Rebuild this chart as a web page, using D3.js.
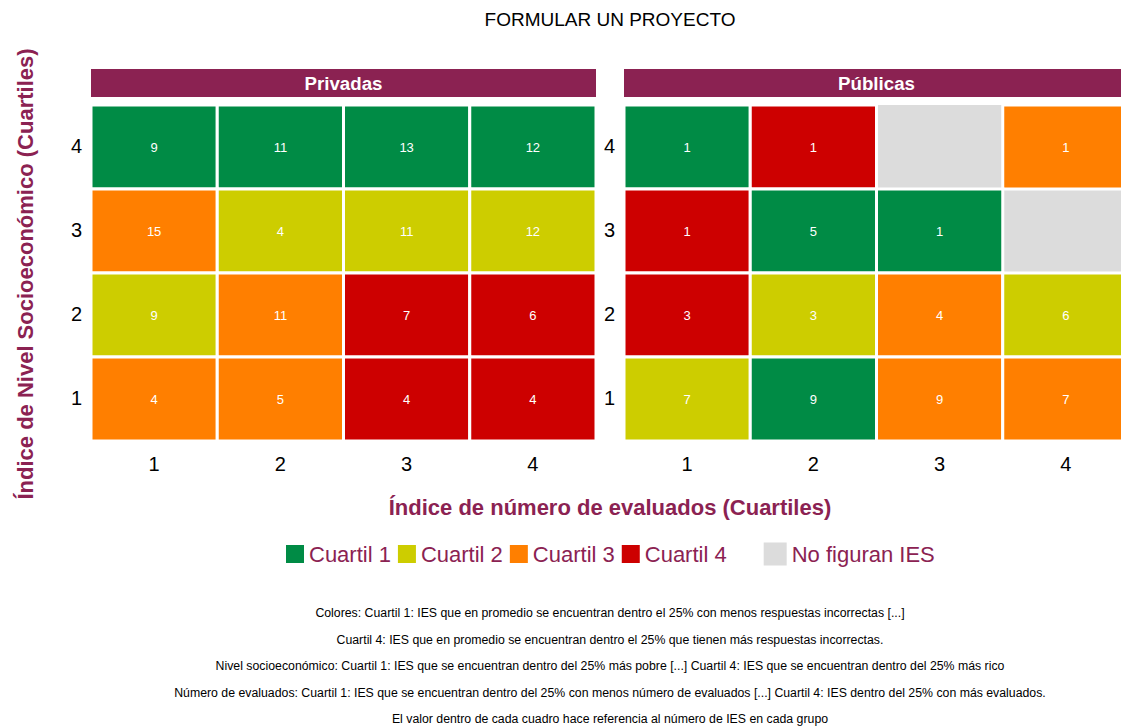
<!DOCTYPE html>
<html lang="es">
<head>
  <meta charset="UTF-8">
  <title>Formular un proyecto</title>
  <style>
    body { margin: 0; background: #fff; }
    text { font-family: "Liberation Sans", Arial, sans-serif; }
  </style>
</head>
<body>
  <svg id="chart" width="1121" height="728"></svg>
  <script src="https://d3js.org/d3.v7.min.js"></script>
  <script>
    // data
    var panels = ["Privadas", "Públicas"];
    var xQuart = [1, 2, 3, 4];      // número de evaluados
    var yQuart = [4, 3, 2, 1];      // nivel socioeconómico, top to bottom
    // counts per panel, rows are y = 4,3,2,1, cols are x = 1..4 (null = no IES)
    var privCounts = [[9, 11, 13, 12], [15, 4, 11, 12], [9, 11, 7, 6], [4, 5, 4, 4]];
    var privColor  = [[1, 1, 1, 1], [3, 2, 2, 2], [2, 3, 4, 4], [3, 3, 4, 4]];
    var pubCounts  = [[1, 1, null, 1], [1, 5, 1, null], [3, 3, 4, 6], [7, 9, 9, 7]];
    var pubColor   = [[1, 4, 0, 3], [4, 1, 1, 0], [4, 2, 3, 2], [2, 1, 3, 3]];
    var legendLabels = ["Cuartil 1", "Cuartil 2", "Cuartil 3", "Cuartil 4", "No figuran IES"];
    var notes = [
      "Colores: Cuartil 1:  IES que en promedio se encuentran dentro el 25% con menos respuestas incorrectas [...]",
      "Cuartil 4: IES que en promedio se encuentran dentro el 25% que tienen más respuestas incorrectas.",
      "Nivel socioeconómico: Cuartil 1: IES que se encuentran dentro del 25% más pobre [...] Cuartil 4: IES que se encuentran dentro del 25% más rico",
      "Número de evaluados: Cuartil 1: IES que se encuentran dentro del 25% con menos número de evaluados [...] Cuartil 4: IES dentro del 25% con más evaluados.",
      "El valor dentro de cada cuadro hace referencia al número de IES en cada grupo"
    ];

    var maroon = "#8B2252";
    // 0 = no IES, 1..4 = cuartil
    var fill = d3.scaleOrdinal()
      .domain([1, 2, 3, 4, 0])
      .range(["#008B45", "#CDCD00", "#FF7F00", "#CD0000", "#DCDCDC"]);

    var svg = d3.select("#chart");

    // flatten grids into tiles
    function tiles(counts, colors) {
      var out = [];
      yQuart.forEach(function(yq, r) {
        xQuart.forEach(function(xq, c) {
          out.push({x: xq, y: yq, n: counts[r][c], q: colors[r][c]});
        });
      });
      return out;
    }
    var panelData = [tiles(privCounts, privColor), tiles(pubCounts, pubColor)];

    var panelW = 505, panelLeft = [91, 624];
    var plotTop = 105, plotBottom = 441;
    var y = d3.scaleBand().domain(yQuart).range([plotTop, plotBottom]);

    svg.append("text")
      .attr("x", 610).attr("y", 26)
      .attr("text-anchor", "middle")
      .style("font-size", "19px")
      .text("FORMULAR UN PROYECTO");

    panels.forEach(function(name, p) {
      var x = d3.scaleBand().domain(xQuart).range([panelLeft[p], panelLeft[p] + panelW]);
      var g = svg.append("g");

      // strip
      g.append("rect")
        .attr("x", panelLeft[p]).attr("y", 69)
        .attr("width", panelW).attr("height", 28)
        .attr("fill", maroon);
      g.append("text")
        .attr("x", panelLeft[p] + panelW / 2).attr("y", 89.5)
        .attr("text-anchor", "middle")
        .attr("fill", "white")
        .style("font-size", "18.7px").style("font-weight", "bold")
        .text(name);

      // grey (no IES) tiles first, so the white borders of neighbours sit on top
      var data = panelData[p].slice().sort(function(a, b) { return (a.q === 0 ? 0 : 1) - (b.q === 0 ? 0 : 1); });

      g.selectAll("rect.tile")
        .data(data)
        .enter().append("rect")
        .attr("class", "tile")
        .attr("x", d => x(d.x))
        .attr("y", d => y(d.y))
        .attr("width", x.bandwidth())
        .attr("height", y.bandwidth())
        .attr("fill", d => fill(d.q))
        .attr("stroke", d => d.q === 0 ? "none" : "white")
        .attr("stroke-width", 3);

      g.selectAll("text.val")
        .data(data.filter(d => d.n !== null))
        .enter().append("text")
        .attr("class", "val")
        .attr("x", d => x(d.x) + x.bandwidth() / 2)
        .attr("y", d => y(d.y) + y.bandwidth() / 2 + 4.5)
        .attr("text-anchor", "middle")
        .attr("fill", "white")
        .style("font-size", "13px")
        .text(d => d.n);

      // axes
      var xAxis = g.append("g")
        .attr("transform", "translate(0," + (plotBottom + 8) + ")")
        .call(d3.axisBottom(x).tickSize(0).tickPadding(8));
      var yAxis = g.append("g")
        .attr("transform", "translate(" + (panelLeft[p] - 3) + ",0)")
        .call(d3.axisLeft(y).tickSize(0).tickPadding(6));
      [xAxis, yAxis].forEach(function(a) {
        a.select(".domain").remove();
        a.selectAll("text")
          .attr("fill", "black")
          .style("font-family", "'Liberation Sans', Arial, sans-serif")
          .style("font-size", "20px");
      });
    });

    // axis titles
    svg.append("text")
      .attr("x", 610).attr("y", 515)
      .attr("text-anchor", "middle")
      .attr("fill", maroon)
      .style("font-size", "22px").style("font-weight", "bold")
      .text("Índice de número de evaluados (Cuartiles)");
    svg.append("text")
      .attr("transform", "translate(33,274) rotate(-90)")
      .attr("text-anchor", "middle")
      .attr("fill", maroon)
      .style("font-size", "22px").style("font-weight", "bold")
      .text("Índice de Nivel Socioeconómico (Cuartiles)");

    // legend
    var leg = svg.append("g");
    var lx = 286, ly = 554;
    legendLabels.forEach(function(lab, i) {
      var q = i < 4 ? i + 1 : 0;
      var s = q === 0 ? 23 : 18;
      if (q === 0) lx += 30;
      leg.append("rect")
        .attr("x", lx).attr("y", ly - s / 2)
        .attr("width", s).attr("height", s)
        .attr("fill", fill(q));
      var t = leg.append("text")
        .attr("x", lx + s + 5).attr("y", ly + 8)
        .attr("fill", maroon)
        .style("font-size", "22px")
        .text(lab);
      lx += s + 5 + t.node().getComputedTextLength() + 7;
    });

    // notes
    svg.selectAll("text.note")
      .data(notes)
      .enter().append("text")
      .attr("class", "note")
      .attr("x", 610)
      .attr("y", (d, i) => 617 + i * 26.5)
      .attr("text-anchor", "middle")
      .style("font-size", "12.3px")
      .text(d => d);
  </script>
</body>
</html>
